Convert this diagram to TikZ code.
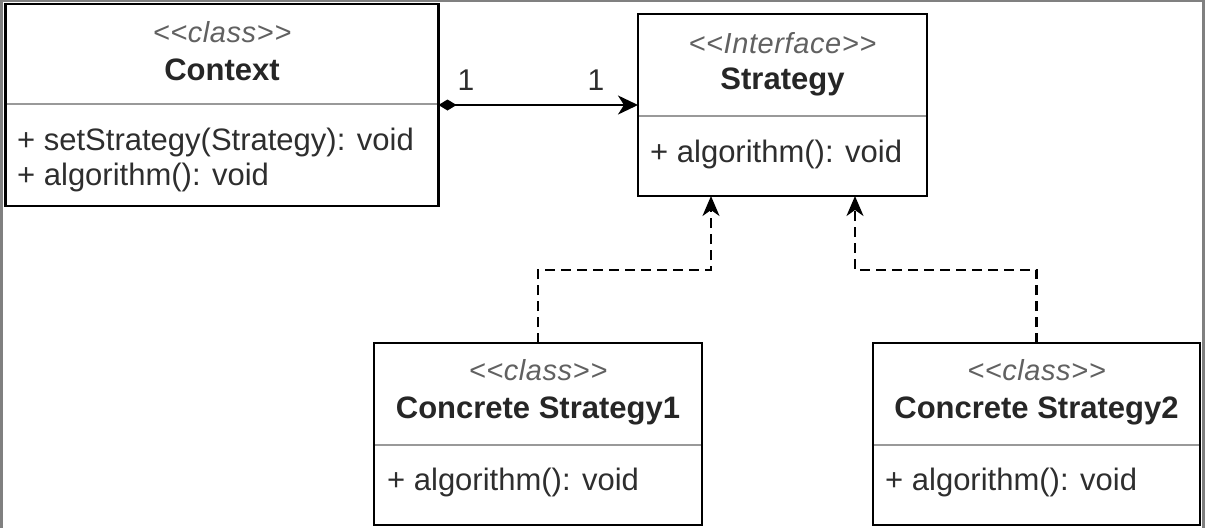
\documentclass[tikz,border=0pt]{standalone}
\usepackage{fontspec}
\setmainfont{Liberation Sans}
\usetikzlibrary{arrows.meta,calc}
\begin{document}
\begin{tikzpicture}[x=1pt,y=-1pt,
  classbox/.style={rectangle, draw=black, line width=2.6pt, fill=white, inner sep=0pt, outer sep=0pt},
  divider/.style={draw=black!40, line width=1.3pt, shorten <=1.3pt, shorten >=1.3pt},
  stereo/.style={anchor=base, inner sep=0pt, text=black!62, font=\fontsize{29}{33}\selectfont\itshape\addfontfeature{LetterSpace=2}},
  cname/.style={anchor=base, inner sep=0pt, text=black!85, font=\fontsize{31}{36}\selectfont\bfseries},
  member/.style={anchor=base west, inner sep=0pt, text=black!82, font=\fontsize{31}{36}\selectfont},
  mult/.style={anchor=base, inner sep=0pt, text=black!82, font=\fontsize{30}{36}\selectfont},
  compose/.style={line width=2.4pt, {Diamond[length=18pt,width=11pt]}-{Stealth[length=20pt,width=19pt,inset=6pt]}},
  realize/.style={line width=2.4pt, dash pattern=on 10pt off 6pt, -{Stealth[length=20pt,width=17pt,inset=6pt]}}
]
% page frame
\fill[black!50] (0,0) rectangle (1205,528);
\fill[white] (3,1.5) rectangle (1202,528);
\useasboundingbox (0,0) rectangle (1205,528);

% class boxes
\node[classbox, minimum width=433pt, minimum height=202pt] (context) at (222,105) {};
\node[classbox, minimum width=289pt, minimum height=182pt] (strategy) at (782.5,105) {};
\node[classbox, minimum width=328pt, minimum height=182pt] (cs1) at (538,434) {};
\node[classbox, minimum width=327pt, minimum height=182pt] (cs2) at (1036.5,434) {};

% compartment dividers
\draw[divider] ([yshift=1pt]context.west) -- ([yshift=1pt]context.east);
\draw[divider] ([yshift=-11pt]strategy.west) -- ([yshift=-11pt]strategy.east);
\draw[divider] ([yshift=-11pt]cs1.west) -- ([yshift=-11pt]cs1.east);
\draw[divider] ([yshift=-11pt]cs2.west) -- ([yshift=-11pt]cs2.east);

% Context
\node[stereo] (ctxst) at (222,42) {<{}<class>{}>};
\node[cname] (ctxnm) at (222,80) {Context};
\node[member] (ctxm1) at (17,150) {+ setStrategy(Strategy): void};
\node[member] (ctxm2) at (17,185) {+ algorithm(): void};

% Strategy
\node[stereo] (strst) at (782.5,53) {<{}<Interface>{}>};
\node[cname] (strnm) at (782.5,89) {Strategy};
\node[member] (strm1) at (650,162) {+ algorithm(): void};

% ConcreteStrategy1
\node[stereo] (c1st) at (538,380) {<{}<class>{}>};
\node[cname] (c1nm) at (538,418) {Concrete Strategy1};
\node[member] (c1m1) at (387,490) {+ algorithm(): void};

% ConcreteStrategy2
\node[stereo] (c2st) at (1036.5,380) {<{}<class>{}>};
\node[cname] (c2nm) at (1036.5,418) {Concrete Strategy2};
\node[member] (c2m1) at (885,490) {+ algorithm(): void};

% composition Context -> Strategy
\draw[compose] (context.east) -- (strategy.west);
\node[mult] (multa) at (466,90) {1};
\node[mult] (multb) at (596,90) {1};

% realizations
\coordinate (k1) at (711,270);
\coordinate (k2) at (855,270);
\draw[realize] (cs1.north) |- (k1) -- (k1 |- strategy.south);
\draw[realize] (cs2.north) |- (k2) -- (k2 |- strategy.south);
\end{tikzpicture}
\end{document}
